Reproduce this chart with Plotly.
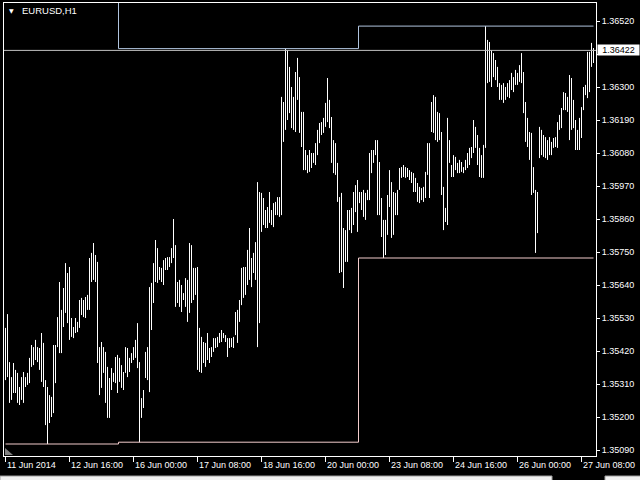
import plotly.graph_objects as go

# ---------------- data ----------------
symbol = "EURUSD,H1"
tick_labels = ["11 Jun 2014", "12 Jun 16:00", "16 Jun 00:00", "17 Jun 08:00", "18 Jun 16:00",
               "20 Jun 00:00", "23 Jun 08:00", "24 Jun 16:00", "26 Jun 00:00", "27 Jun 08:00"]
tick_bars = [0, 32, 64, 96, 128, 160, 192, 224, 256, 288]
price_ticks = [1.36520, 1.36410, 1.36300, 1.36190, 1.36080, 1.35970, 1.35860,
               1.35750, 1.35640, 1.35530, 1.35420, 1.35310, 1.35200, 1.35090]
last_price = 1.36422

# channel levels (upper = highest high, lower = lowest low) and the bar where each level starts
level_start_bars = [0, 57, 177]
upper_levels = [1.36620, 1.36428, 1.36503]
lower_levels = [1.35110, 1.35116, 1.35730]

# hourly bar highs / lows, left to right
high_a = [1.35497, 1.35543, 1.35383, 1.35333, 1.35380, 1.35357, 1.35347, 1.35300, 1.35333, 1.35350,
          1.35333, 1.35347, 1.35397, 1.35440, 1.35433, 1.35457, 1.35433, 1.35430, 1.35480, 1.35447,
          1.35323, 1.35300, 1.35273, 1.35267, 1.35440, 1.35440, 1.35533, 1.35650, 1.35557, 1.35630,
          1.35713, 1.35680, 1.35700, 1.35530, 1.35500, 1.35530, 1.35517, 1.35590]
low_a = [1.35323, 1.35333, 1.35247, 1.35257, 1.35280, 1.35280, 1.35247, 1.35240, 1.35257, 1.35247,
         1.35300, 1.35307, 1.35313, 1.35367, 1.35373, 1.35390, 1.35383, 1.35357, 1.35317, 1.35300,
         1.35173, 1.35110, 1.35180, 1.35200, 1.35213, 1.35313, 1.35433, 1.35413, 1.35413, 1.35500,
         1.35547, 1.35513, 1.35457, 1.35467, 1.35463, 1.35480, 1.35483, 1.35497]

high_b = [1.35597, 1.35590, 1.35600, 1.35607, 1.35730, 1.35747, 1.35780, 1.35740, 1.35717, 1.35433,
          1.35450, 1.35433, 1.35417, 1.35367, 1.35330, 1.35363, 1.35347, 1.35400, 1.35407, 1.35397,
          1.35373, 1.35350, 1.35433, 1.35430, 1.35397, 1.35413, 1.35433, 1.35457, 1.35513, 1.35383,
          1.35263, 1.35290, 1.35417, 1.35433, 1.35633, 1.35647, 1.35713]
low_b = [1.35540, 1.35533, 1.35530, 1.35557, 1.35557, 1.35650, 1.35657, 1.35650, 1.35380, 1.35273,
         1.35297, 1.35347, 1.35247, 1.35197, 1.35197, 1.35290, 1.35317, 1.35313, 1.35280, 1.35317,
         1.35297, 1.35290, 1.35347, 1.35333, 1.35350, 1.35380, 1.35390, 1.35397, 1.35363, 1.35116,
         1.35197, 1.35230, 1.35330, 1.35323, 1.35283, 1.35490, 1.35580]

high_c = [1.35790, 1.35763, 1.35700, 1.35697, 1.35723, 1.35730, 1.35733, 1.35733, 1.35763, 1.35860,
          1.35773, 1.35650, 1.35657, 1.35640, 1.35613, 1.35663, 1.35657, 1.35780, 1.35773, 1.35697,
          1.35697, 1.35700, 1.35497, 1.35467, 1.35450, 1.35447, 1.35480, 1.35430, 1.35433, 1.35463,
          1.35463, 1.35467, 1.35480, 1.35490, 1.35480, 1.35473, 1.35463]
low_c = [1.35650, 1.35647, 1.35657, 1.35650, 1.35640, 1.35690, 1.35690, 1.35700, 1.35713, 1.35730,
         1.35567, 1.35580, 1.35567, 1.35550, 1.35590, 1.35567, 1.35517, 1.35547, 1.35580, 1.35590,
         1.35607, 1.35357, 1.35350, 1.35347, 1.35380, 1.35367, 1.35390, 1.35380, 1.35400, 1.35417,
         1.35430, 1.35433, 1.35447, 1.35450, 1.35463, 1.35450, 1.35400]

high_d = [1.35463, 1.35463, 1.35467, 1.35550, 1.35557, 1.35590, 1.35697, 1.35700, 1.35700, 1.35757,
          1.35830, 1.35730, 1.35747, 1.35783, 1.35983, 1.35950, 1.35947, 1.35930, 1.35890, 1.35900,
          1.35950, 1.35890, 1.35913, 1.35917, 1.35933, 1.35933, 1.36267, 1.36250, 1.36428, 1.36423,
          1.36367, 1.36300, 1.36267, 1.36350, 1.36397, 1.36333, 1.36217]
low_d = [1.35430, 1.35433, 1.35430, 1.35473, 1.35447, 1.35517, 1.35573, 1.35597, 1.35607, 1.35640,
         1.35657, 1.35633, 1.35680, 1.35657, 1.35433, 1.35513, 1.35817, 1.35840, 1.35830, 1.35830,
         1.35847, 1.35840, 1.35833, 1.35873, 1.35873, 1.35867, 1.35873, 1.36117, 1.36157, 1.36190,
         1.36213, 1.36163, 1.36157, 1.36150, 1.36257, 1.36147, 1.36100]

high_e = [1.36217, 1.36090, 1.36073, 1.36090, 1.36080, 1.36080, 1.36113, 1.36157, 1.36180, 1.36183,
          1.36197, 1.36247, 1.36330, 1.36257, 1.36200, 1.36123, 1.36113, 1.36047, 1.35933, 1.35947,
          1.35830, 1.35823, 1.35890, 1.35890, 1.35897, 1.35950, 1.35973, 1.35990, 1.35950, 1.35950,
          1.35957, 1.35947, 1.35957, 1.36080, 1.36090, 1.36090, 1.36123]
low_e = [1.36023, 1.36023, 1.36013, 1.36017, 1.36030, 1.36047, 1.36040, 1.36073, 1.36113, 1.36140,
         1.36147, 1.36167, 1.36183, 1.36163, 1.36047, 1.36013, 1.36007, 1.35917, 1.35680, 1.35683,
         1.35630, 1.35717, 1.35717, 1.35823, 1.35813, 1.35840, 1.35883, 1.35817, 1.35913, 1.35890,
         1.35867, 1.35857, 1.35923, 1.35923, 1.36013, 1.36047, 1.36073]

high_f = [1.36123, 1.36050, 1.35930, 1.35857, 1.35857, 1.35940, 1.36023, 1.35983, 1.35950, 1.35947,
          1.35957, 1.36030, 1.36033, 1.36040, 1.36033, 1.36030, 1.36023, 1.36017, 1.36013, 1.35997,
          1.35980, 1.35967, 1.35963, 1.35967, 1.36017, 1.36113, 1.36113, 1.36250, 1.36273, 1.36267,
          1.36217, 1.36213, 1.36150, 1.35967, 1.35897, 1.36197, 1.36123]
low_f = [1.35873, 1.35873, 1.35800, 1.35730, 1.35740, 1.35807, 1.35900, 1.35797, 1.35807, 1.35873,
         1.35873, 1.35957, 1.35997, 1.36000, 1.35997, 1.36000, 1.35990, 1.35980, 1.35950, 1.35950,
         1.35917, 1.35913, 1.35923, 1.35917, 1.35930, 1.36007, 1.35930, 1.36150, 1.36147, 1.36123,
         1.36117, 1.36123, 1.35940, 1.35823, 1.35850, 1.35840, 1.36047]

high_g = [1.36040, 1.36073, 1.36067, 1.36047, 1.36057, 1.36050, 1.36033, 1.36057, 1.36080, 1.36097,
          1.36100, 1.36190, 1.36167, 1.36140, 1.36097, 1.36073, 1.36107, 1.36503, 1.36457, 1.36450,
          1.36423, 1.36413, 1.36390, 1.36367, 1.36313, 1.36307, 1.36313, 1.36300, 1.36313, 1.36323,
          1.36347, 1.36333, 1.36357, 1.36347, 1.36373, 1.36413, 1.36350]
low_g = [1.36000, 1.36000, 1.36023, 1.36013, 1.36013, 1.36017, 1.36013, 1.36023, 1.36030, 1.36040,
         1.36063, 1.36080, 1.36097, 1.36040, 1.36000, 1.35997, 1.35997, 1.36097, 1.36313, 1.36317,
         1.36300, 1.36333, 1.36323, 1.36300, 1.36257, 1.36257, 1.36247, 1.36257, 1.36267, 1.36263,
         1.36290, 1.36283, 1.36307, 1.36307, 1.36317, 1.36313, 1.36213]

high_h = [1.36250, 1.36197, 1.36150, 1.36147, 1.36033, 1.35957, 1.35950, 1.36167, 1.36157, 1.36140,
          1.36133, 1.36123, 1.36133, 1.36117, 1.36130, 1.36133, 1.36183, 1.36207, 1.36230, 1.36283,
          1.36280, 1.36267, 1.36340, 1.36330, 1.36257, 1.36190, 1.36157, 1.36197, 1.36233, 1.36300,
          1.36307, 1.36417, 1.36417, 1.36447, 1.36430]
low_h = [1.36117, 1.36100, 1.36057, 1.35940, 1.35947, 1.35747, 1.35813, 1.36063, 1.36073, 1.36067,
         1.36063, 1.36057, 1.36073, 1.36073, 1.36097, 1.36100, 1.36097, 1.36157, 1.36163, 1.36223,
         1.36223, 1.36217, 1.36123, 1.36157, 1.36163, 1.36090, 1.36090, 1.36090, 1.36130, 1.36223,
         1.36273, 1.36263, 1.36283, 1.36367, 1.36380]

highs = high_a + high_b + high_c + high_d + high_e + high_f + high_g + high_h
lows = low_a + low_b + low_c + low_d + low_e + low_f + low_g + low_h
n_bars = len(highs)

# ---------------- build traces ----------------
bx, by = [], []
for i, (h, l) in enumerate(zip(highs, lows)):
    bx += [i, i, None]
    by += [l, h, None]

def step_series(levels):
    xs, ys = [], []
    for k, v in enumerate(levels):
        start = level_start_bars[k]
        xs.append(start - 0.5 if k > 0 else start)
        ys.append(v)
    xs.append(n_bars - 1)
    ys.append(levels[-1])
    return xs, ys

ux, uy = step_series(upper_levels)
lx, ly = step_series(lower_levels)

FONT = "Liberation Sans"
fig = go.Figure()
fig.add_trace(go.Scatter(x=bx, y=by, mode="lines", line=dict(color="white", width=1),
                         hoverinfo="skip", showlegend=False))
fig.add_trace(go.Scatter(x=ux, y=uy, mode="lines", line=dict(color="#b0c4de", width=1, shape="hv"),
                         hoverinfo="skip", showlegend=False))
fig.add_trace(go.Scatter(x=lx, y=ly, mode="lines", line=dict(color="#f2cccc", width=1, shape="hv"),
                         hoverinfo="skip", showlegend=False))

annotations = []
for b, t in zip(tick_bars, tick_labels):
    annotations.append(dict(x=b, y=-0.0199, xref="x", yref="paper", text=t, showarrow=False,
                            xanchor="left", yanchor="middle", xshift=-1,
                            font=dict(family=FONT, size=9, color="white")))
annotations.append(dict(x=0.027, y=0.9845, xref="paper", yref="paper", text=symbol, showarrow=False,
                        xanchor="left", yanchor="middle", font=dict(family=FONT, size=9.5, color="white")))
annotations.append(dict(x=0.0127, y=0.9845, xref="paper", yref="paper", text="▼", showarrow=False,
                        xanchor="center", yanchor="middle", font=dict(family="DejaVu Sans", size=6, color="white")))
annotations.append(dict(x=1, y=last_price, xref="paper", yref="y", text=f"{last_price:.5f}",
                        showarrow=False, xanchor="left", yanchor="middle", xshift=1,
                        bgcolor="white", borderpad=0, width=41, height=10,
                        font=dict(family=FONT, size=9, color="black")))

shapes = [
    dict(type="line", xref="paper", yref="y", x0=0, x1=1, y0=last_price, y1=last_price,
         line=dict(color="#c0c0c0", width=1)),
    dict(type="path", xref="paper", yref="paper",
         path="M 0.0017,0.0022 L 0.0017,0.0177 L 0.0152,0.0022 Z",
         fillcolor="#808080", line=dict(width=0)),
    dict(type="rect", xref="paper", yref="paper", x0=-0.0068, x1=0.9257, y0=-0.06, y1=-0.0442,
         fillcolor="#f0f0f0", line=dict(color="#a0a0a0", width=1)),
    dict(type="rect", xref="paper", yref="paper", x0=1.0152, x1=1.08, y0=-0.06, y1=-0.0442,
         fillcolor="#f0f0f0", line=dict(color="#a0a0a0", width=1)),
]

# the tick label hidden under the current-price box is left blank
hidden_tick = 1.36410
tick_text = ["" if abs(v - hidden_tick) < 1e-9 else f"{v:.5f}" for v in price_ticks]

fig.update_layout(
    width=640, height=480,
    margin=dict(l=4, r=44, t=3, b=24, pad=0),
    paper_bgcolor="black", plot_bgcolor="black",
    showlegend=False,
    annotations=annotations, shapes=shapes,
    xaxis=dict(range=[-0.75, 295.25], showgrid=False, zeroline=False,
               showline=True, linecolor="white", linewidth=1, mirror=True,
               tickmode="array", tickvals=tick_bars, ticks="outside", ticklen=5,
               tickcolor="white", tickwidth=1, showticklabels=False),
    yaxis=dict(range=[1.3507, 1.3658], side="right", showgrid=False, zeroline=False,
               showline=True, linecolor="white", linewidth=1, mirror=True,
               tickmode="array", tickvals=price_ticks, ticktext=tick_text,
               ticks="outside", ticklen=3, tickcolor="white", tickwidth=1,
               tickfont=dict(family=FONT, size=9, color="white")),
)

fig.write_html("out.html", config={"displayModeBar": False},
               post_script="document.body.style.margin='0';document.body.style.overflow='hidden';")
